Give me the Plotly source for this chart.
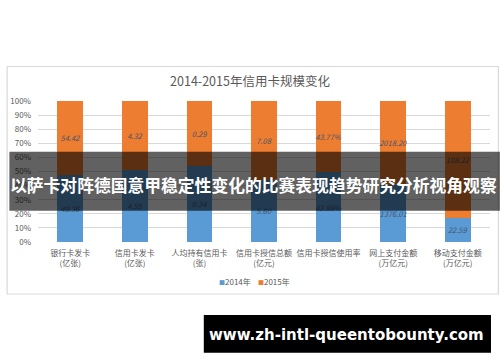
import plotly.graph_objects as go

# ---- data ----
categories = ["银行卡发卡<br>(亿张)", "信用卡发卡<br>(亿张)", "人均持有信用卡<br>(张)",
              "信用卡授信总额<br>(亿元)", "信用卡授信使用率", "网上支付金额<br>(万亿元)",
              "移动支付金额<br>(万亿元)"]
v2014 = [49.36, 4.55, 0.34, 5.60, 42.88, 1376.01, 22.59]
v2015 = [54.42, 4.32, 0.29, 7.08, 43.77, 2018.20, 108.22]
suffix = ["", "", "", "", "%", "", ""]
series_names = ["2014年", "2015年"]
title_text = "2014-2015年信用卡规模变化"
banner_text = "以萨卡对阵德国意甲稳定性变化的比赛表现趋势研究分析视角观察"
watermark_text = "www.zh-intl-queentobounty.com"

BLUE = "#5B9BD5"
ORANGE = "#ED7D31"
LABEL = "#44546A"
GRAY = "#595959"
FONT = "Noto Sans CJK SC, sans-serif"

W, H = 500, 362
ML, MR, MT, MB = 32, 10, 101, 120
PW, PH = W - ML - MR, H - MT - MB


def px(x):
    return (x - ML) / PW


def py(y):
    return (H - MB - y) / PH


fig = go.Figure()
for name, vals, col in [(series_names[0], v2014, BLUE), (series_names[1], v2015, ORANGE)]:
    fig.add_trace(go.Bar(
        x=categories, y=vals, name=name, marker=dict(color=col, line=dict(width=0)),
        text=[f"{v:.2f}{s}" for v, s in zip(vals, suffix)],
        textposition="inside", insidetextanchor="middle", textangle=0,
        constraintext="none",
        textfont=dict(size=7.5, color=LABEL, style="italic", family=FONT),
        showlegend=False,
    ))

shapes = [
    # chart frame
    dict(type="rect", xref="paper", yref="paper", x0=px(0.7), x1=px(498.5), y0=py(66.5), y1=py(294),
         line=dict(color="#D9D9D9", width=1.2), fillcolor="rgba(0,0,0,0)", layer="below"),
    # banner
    dict(type="rect", xref="paper", yref="paper", x0=px(3), x1=px(500), y0=py(151.7), y1=py(210.7),
         line=dict(width=0), fillcolor="rgba(0,0,0,0.62)", layer="above"),
    # watermark box
    dict(type="rect", xref="paper", yref="paper", x0=px(200), x1=px(491), y0=py(315), y1=py(352.7),
         line=dict(width=0), fillcolor="#000000", layer="above"),
]

annotations = [
    dict(xref="paper", yref="paper", x=px(251), y=py(281), xanchor="center", yanchor="middle",
         showarrow=False, font=dict(size=8, color=GRAY, family=FONT),
         text=(f"<span style='color:{BLUE};font-size:6px'>■</span>{series_names[0]}"
               f"    <span style='color:{ORANGE};font-size:6px'>■</span>{series_names[1]}")),
    dict(xref="paper", yref="paper", x=px(250), y=py(185), xanchor="center", yanchor="middle",
         showarrow=False, text=banner_text,
         font=dict(size=16.8, color="white", family=FONT, weight="bold")),
    dict(xref="paper", yref="paper", x=px(344.5), y=py(335), xanchor="center", yanchor="middle",
         showarrow=False, text=watermark_text,
         font=dict(size=15, color="white", family="DejaVu Sans, sans-serif", weight="bold")),
]

fig.update_layout(
    width=W, height=H, margin=dict(l=ML, r=MR, t=MT, b=MB),
    paper_bgcolor="white", plot_bgcolor="white",
    barmode="stack", barnorm="fraction", bargap=0.6,
    font=dict(family=FONT, color=GRAY),
    title=dict(text=title_text, x=0.5, xref="container", xanchor="center",
               y=1 - 81.7 / H, yref="container", yanchor="middle",
               font=dict(size=12.5, color=GRAY, family=FONT)),
    xaxis=dict(type="category", showgrid=False, zeroline=False, showline=False, ticks="",
               tickfont=dict(size=8, color=GRAY, family=FONT), ticklabelstandoff=5),
    yaxis=dict(range=[0, 1], dtick=0.1, tickformat=".0%", showgrid=True, gridcolor="#D9D9D9",
               gridwidth=1, zeroline=False, showline=False, ticks="",
               tickfont=dict(size=8, color=GRAY, family=FONT), ticklabelstandoff=6),
    shapes=shapes, annotations=annotations,
    uniformtext=dict(minsize=7, mode="show"),
)

fig.write_html("out.html", config={"staticPlot": True, "displayModeBar": False},
               post_script="document.body.style.margin='0';")
